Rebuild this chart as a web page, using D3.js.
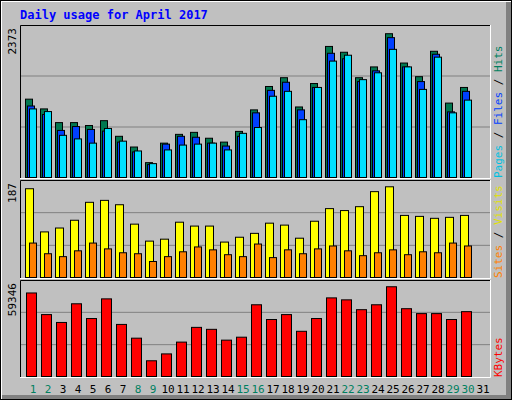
<!DOCTYPE html>
<html lang="en">
<head>
<meta charset="UTF-8">
<title>Daily usage for April 2017</title>
<style>
  body { margin: 0; background: #fff; }
  svg { display: block; }
  text { font-family: "DejaVu Sans Mono", monospace; }
</style>
</head>
<body>
<svg id="chart" width="512" height="400"></svg>
<script src="https://d3js.org/d3.v7.min.js"></script>
<script>
// values per day, April 2017
const days = d3.range(1, 32);
const weekendDays = [1, 2, 8, 9, 15, 16, 22, 23, 29, 30];
const hits = [1293,1132,906,906,858,938,680,503,245,567,712,745,648,584,761,1116,1502,1647,1164,1551,2163,2067,1647,1825,2373,1889,1664,2083,1228,1486];
const files = [1180,1040,777,841,793,766,584,422,213,551,680,664,567,519,680,1067,1438,1572,1116,1486,2050,1959,1583,1760,2308,1825,1583,2034,1083,1422];
const pages = [1132,1088,696,637,567,809,600,438,229,455,535,551,567,455,729,825,1341,1422,954,1486,1921,2018,1615,1728,2115,1825,1454,1986,1067,1277];
const visits = [183,94,102,118,155,159,150,110,75,79,114,106,106,73,83,91,112,108,81,116,142,138,146,177,187,128,126,122,124,128];
const sites = [71,49,43,55,71,59,51,49,33,43,53,63,57,47,43,69,41,57,49,59,65,55,45,51,57,47,53,51,71,65];
const kbytes = [55233,40937,35739,48085,38338,51334,34439,25342,10397,14945,22743,32490,31190,24043,25992,47435,37688,40937,29891,38338,51984,50684,44186,47435,59346,44836,41587,41587,37688,42887];

const svg = d3.select("#chart");

// frame
svg.append("rect").attr("x", 0).attr("y", 0).attr("width", 512).attr("height", 400).attr("fill", "#000");
svg.append("rect").attr("x", 1).attr("y", 1).attr("width", 510).attr("height", 398).attr("fill", "#fff");
svg.append("rect").attr("x", 2).attr("y", 2).attr("width", 509).attr("height", 397).attr("fill", "#808080");
svg.append("rect").attr("x", 2).attr("y", 2).attr("width", 504).attr("height", 393).attr("fill", "#c0c0c0");

svg.append("text").attr("x", 20).attr("y", 19)
  .attr("fill", "#0000ff").attr("font-size", 12).attr("font-weight", "bold")
  .text("Daily usage for April 2017");

const x = d3.scaleBand().domain(days).range([25, 490]);

function panel(top, bottom, maxVal, maxLabel, labels) {
  // inset box
  svg.append("rect").attr("x", 20).attr("y", top).attr("width", 471).attr("height", bottom - top)
    .attr("fill", "#c0c0c0");
  [1, 2].forEach(i => {
    const gy = top + (bottom - top) * i / 3;
    svg.append("line").attr("x1", 21).attr("x2", 490).attr("y1", gy).attr("y2", gy)
      .attr("stroke", "#808080").attr("stroke-width", 1);
  });
  svg.append("path").attr("d", `M20.5,${bottom}V${top + 0.5}H491`).attr("stroke", "#000").attr("fill", "none");
  svg.append("path").attr("d", `M20,${bottom + 0.5}H490.5V${top}`).attr("stroke", "#fff").attr("fill", "none");

  svg.append("text")
    .attr("transform", `translate(16,${top + 3}) rotate(-90)`)
    .attr("text-anchor", "end").attr("font-size", 11).attr("fill", "#000")
    .text(maxLabel);

  // right-side legend, rotated, read bottom-to-top
  const t = svg.append("text")
    .attr("transform", `translate(502,${bottom}) rotate(-90)`)
    .attr("font-size", 11);
  labels.forEach((l, i) => {
    if (i > 0) t.append("tspan").attr("fill", "#000").text(" / ");
    t.append("tspan").attr("fill", l.color).text(l.name);
  });

  return d3.scaleLinear().domain([0, maxVal]).range([bottom - 1, bottom - 1 - (bottom - top - 4) * 0.965]);
}

function bars(data, y, offset, width, color) {
  svg.append("g").selectAll("rect").data(data).join("rect")
    .attr("x", (d, i) => x(days[i]) + offset + 0.5)
    .attr("y", d => y(d) + 0.5)
    .attr("width", width)
    .attr("height", d => y(0) - y(d))
    .attr("fill", color).attr("stroke", "#000").attr("stroke-width", 1);
}

const y1 = panel(25, 178, d3.max(hits), "2373", [
  { name: "Pages", color: "#00c0e0" }, { name: "Files", color: "#0040ff" }, { name: "Hits", color: "#008060" }]);
bars(hits, y1, 0, 7, "#007850");
bars(files, y1, 2, 7, "#0040ff");
bars(pages, y1, 4, 7, "#00e0ff");

const y2 = panel(180, 278, d3.max(visits), "187", [
  { name: "Sites", color: "#ff8000" }, { name: "Visits", color: "#e0e000" }]);
bars(visits, y2, 0, 8, "#ffff00");
bars(sites, y2, 4, 7, "#ff8000");

const y3 = panel(280, 377, d3.max(kbytes), "59346", [{ name: "KBytes", color: "#ff0000" }]);
bars(kbytes, y3, 1, 10, "#ff0000");

svg.append("g").selectAll("text").data(days).join("text")
  .attr("x", d => x(d) + 8).attr("y", 393)
  .attr("text-anchor", "middle").attr("font-size", 11)
  .attr("fill", d => weekendDays.includes(d) ? "#008060" : "#000")
  .text(d => d);
</script>
</body>
</html>
